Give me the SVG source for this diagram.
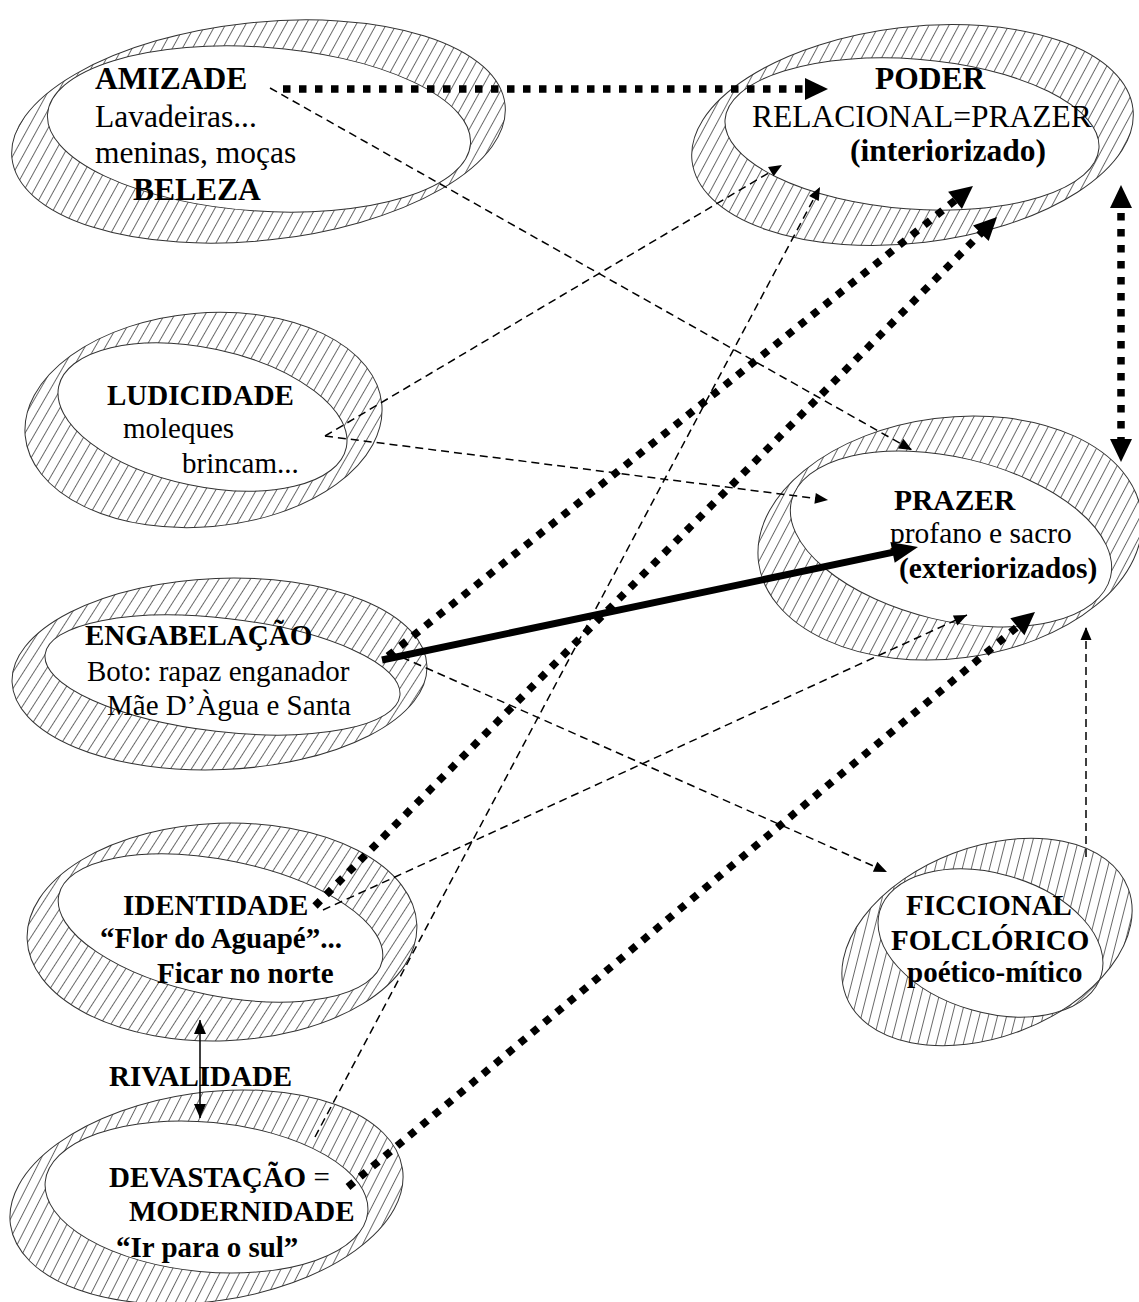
<svg xmlns="http://www.w3.org/2000/svg" xmlns:xlink="http://www.w3.org/1999/xlink" width="1139" height="1302" viewBox="0 0 1139 1302">
<style>
.hatch{fill:url(#h);stroke:none}
.dense{fill:url(#hd);stroke:none}
.white{fill:#fff;stroke:none}
.edge{fill:none;stroke:#333;stroke-width:1}
text{font-family:"Liberation Serif","Times New Roman",serif;fill:#000}
.b{font-weight:bold}
.n{font-weight:normal}
.s31{font-size:31.5px}
.s29{font-size:29px}
.dash{fill:none;stroke:#000;stroke-width:1.5;stroke-dasharray:8 5;marker-end:url(#aThin)}
.dot{fill:none;stroke:#000;stroke-width:7.5;stroke-dasharray:7.5 8.5;marker-end:url(#aDot)}
.solid{fill:none;stroke:#000;stroke-width:7;marker-end:url(#aSolid)}
.riv{fill:none;stroke:#000;stroke-width:1.5;marker-start:url(#aRiv);marker-end:url(#aRiv)}
.both{marker-start:url(#aDot)}
</style>
<defs>
<pattern id="h" patternUnits="userSpaceOnUse" width="8.8" height="10" patternTransform="rotate(35)"><line x1="4.4" y1="-1" x2="4.4" y2="11" stroke="#444" stroke-width="0.8"/></pattern>
<pattern id="hd" patternUnits="userSpaceOnUse" width="3" height="10" patternTransform="rotate(30)"><line x1="1.5" y1="-1" x2="1.5" y2="11" stroke="#444" stroke-width="0.7"/></pattern>
<marker id="aThin" markerUnits="userSpaceOnUse" markerWidth="13" markerHeight="11" refX="13" refY="5.5" orient="auto-start-reverse" overflow="visible"><path d="M0,0 L13,5.5 L0,11 z" fill="#000"/></marker>
<marker id="aDot" markerUnits="userSpaceOnUse" markerWidth="23" markerHeight="22" refX="11" refY="11" orient="auto-start-reverse" overflow="visible"><path d="M0,0 L23,11 L0,22 z" fill="#000"/></marker>
<marker id="aSolid" markerUnits="userSpaceOnUse" markerWidth="26" markerHeight="21" refX="12" refY="10.5" orient="auto-start-reverse" overflow="visible"><path d="M0,0 L26,10.5 L0,21 z" fill="#000"/></marker>
<marker id="aRiv" markerUnits="userSpaceOnUse" markerWidth="14" markerHeight="12" refX="14" refY="6" orient="auto-start-reverse" overflow="visible"><path d="M0,0 L14,6 L0,12 z" fill="#000"/></marker>

<ellipse id="o1" cx="258.5" cy="131.5" rx="248" ry="109" transform="rotate(-6.2 258.5 131.5)"/>
<ellipse id="i1" cx="259" cy="129" rx="212" ry="82" transform="rotate(4 259 129)"/>
<ellipse id="o2" cx="912.5" cy="135" rx="222" ry="108" transform="rotate(-6.8 912.5 135)"/>
<ellipse id="i2" cx="912" cy="134" rx="187.5" ry="75" transform="rotate(4.4 912 134)"/>
<ellipse id="o3" cx="203.5" cy="420" rx="179" ry="107" transform="rotate(-5 203.5 420)"/>
<ellipse id="i3" cx="202.5" cy="417" rx="147" ry="69" transform="rotate(12 202.5 417)"/>
<ellipse id="o4" cx="950" cy="538" rx="193" ry="120.5" transform="rotate(-7.3 950 538)"/>
<ellipse id="i4" cx="951" cy="539" rx="164" ry="81.6" transform="rotate(13.4 951 539)"/>
<ellipse id="o5" cx="219.5" cy="674" rx="207.6" ry="95.7" transform="rotate(-2.3 219.5 674)"/>
<ellipse id="i5" cx="222.5" cy="675" rx="178.6" ry="56.7" transform="rotate(6.6 222.5 675)"/>
<ellipse id="o6" cx="222" cy="932" rx="195" ry="108.8" transform="rotate(-2.1 222 932)"/>
<ellipse id="i6" cx="220.5" cy="928" rx="165" ry="67.8" transform="rotate(11.4 220.5 928)"/>
<ellipse id="o7" cx="206.5" cy="1197" rx="198" ry="104.4" transform="rotate(-8.1 206.5 1197)"/>
<ellipse id="i7" cx="206.5" cy="1197" rx="162" ry="74.8" transform="rotate(5.4 206.5 1197)"/>
<ellipse id="o8" cx="987" cy="942" rx="151" ry="95" transform="rotate(-20.8 987 942)"/>
<ellipse id="i8" cx="990.5" cy="943" rx="115.3" ry="69.5" transform="rotate(16 990.5 943)"/>

<clipPath id="c1"><use xlink:href="#o1"/></clipPath>
<clipPath id="c2"><use xlink:href="#o2"/></clipPath>
<clipPath id="c3"><use xlink:href="#o3"/></clipPath>
<clipPath id="c4"><use xlink:href="#o4"/></clipPath>
<clipPath id="c5"><use xlink:href="#o5"/></clipPath>
<clipPath id="c6"><use xlink:href="#o6"/></clipPath>
<clipPath id="c7"><use xlink:href="#o7"/></clipPath>
<clipPath id="c8"><use xlink:href="#o8"/></clipPath>
</defs>
<rect width="1139" height="1302" fill="#fff"/>

<g id="node-amizade">
<use xlink:href="#i1" class="dense"/><use xlink:href="#o1" class="hatch"/><use xlink:href="#i1" class="white" clip-path="url(#c1)"/><use xlink:href="#o1" class="edge"/><use xlink:href="#i1" class="edge"/>
<text class="s31"><tspan class="b" x="95" y="89">AMIZADE</tspan><tspan x="95" y="127">Lavadeiras...</tspan><tspan x="95" y="163">meninas, moças</tspan><tspan class="b" x="133" y="200">BELEZA</tspan></text>
</g>

<g id="node-poder">
<use xlink:href="#i2" class="dense"/><use xlink:href="#o2" class="hatch"/><use xlink:href="#i2" class="white" clip-path="url(#c2)"/><use xlink:href="#o2" class="edge"/><use xlink:href="#i2" class="edge"/>
<text class="s31"><tspan class="b" x="875" y="89">PODER</tspan><tspan x="752" y="127">RELACIONAL=PRAZER</tspan><tspan class="b" x="850" y="161">(interiorizado)</tspan></text>
</g>

<g id="node-ludicidade">
<use xlink:href="#i3" class="dense"/><use xlink:href="#o3" class="hatch"/><use xlink:href="#i3" class="white" clip-path="url(#c3)"/><use xlink:href="#o3" class="edge"/><use xlink:href="#i3" class="edge"/>
<text class="s29"><tspan class="b" x="107" y="405">LUDICIDADE</tspan><tspan x="123" y="438">moleques</tspan><tspan x="182" y="473">brincam...</tspan></text>
</g>

<g id="node-prazer">
<use xlink:href="#i4" class="dense"/><use xlink:href="#o4" class="hatch"/><use xlink:href="#i4" class="white" clip-path="url(#c4)"/><use xlink:href="#o4" class="edge"/><use xlink:href="#i4" class="edge"/>
<text style="font-size:29.5px"><tspan class="b" x="894" y="510">PRAZER</tspan><tspan x="890" y="543">profano e sacro</tspan><tspan class="b" x="899" y="578">(exteriorizados)</tspan></text>
</g>

<g id="node-engabelacao">
<use xlink:href="#i5" class="dense"/><use xlink:href="#o5" class="hatch"/><use xlink:href="#i5" class="white" clip-path="url(#c5)"/><use xlink:href="#o5" class="edge"/><use xlink:href="#i5" class="edge"/>
<text class="s29"><tspan class="b" x="85" y="645">ENGABELAÇÃO</tspan><tspan x="87" y="681">Boto: rapaz enganador</tspan><tspan x="107" y="715">Mãe D’Àgua e Santa</tspan></text>
</g>

<g id="node-identidade">
<use xlink:href="#i6" class="dense"/><use xlink:href="#o6" class="hatch"/><use xlink:href="#i6" class="white" clip-path="url(#c6)"/><use xlink:href="#o6" class="edge"/><use xlink:href="#i6" class="edge"/>
<text class="s29 b"><tspan x="123" y="915">IDENTIDADE</tspan><tspan x="100" y="948">“Flor do Aguapé”...</tspan><tspan x="157" y="983">Ficar no norte</tspan></text>
</g>

<g id="node-devastacao">
<use xlink:href="#i7" class="dense"/><use xlink:href="#o7" class="hatch"/><use xlink:href="#i7" class="white" clip-path="url(#c7)"/><use xlink:href="#o7" class="edge"/><use xlink:href="#i7" class="edge"/>
<text class="s29 b"><tspan x="109" y="1187">DEVASTAÇÃO<tspan class="n"> =</tspan></tspan><tspan x="129" y="1221">MODERNIDADE</tspan><tspan x="116" y="1257">“Ir para o sul”</tspan></text>
</g>

<g id="node-ficcional">
<use xlink:href="#i8" class="dense"/><use xlink:href="#o8" class="hatch"/><use xlink:href="#i8" class="white" clip-path="url(#c8)"/><use xlink:href="#o8" class="edge"/><use xlink:href="#i8" class="edge"/>
<text class="s29 b"><tspan x="906" y="915">FICCIONAL</tspan><tspan x="891" y="950">FOLCLÓRICO</tspan><tspan x="907" y="982">poético-mítico</tspan></text>
</g>

<g id="label-rivalidade">
<text class="s29 b" x="109" y="1086">RIVALIDADE</text>
</g>

<g id="connectors">
<line class="dot" x1="283" y1="89" x2="816" y2="89"/>
<line class="dash" x1="270" y1="88" x2="912" y2="450"/>
<line class="dash" x1="325" y1="436" x2="782" y2="165"/>
<line class="dash" x1="325" y1="436" x2="828" y2="500"/>
<line class="dash" x1="315" y1="1137" x2="820" y2="187"/>
<line class="dot" x1="388" y1="656" x2="963.6" y2="193.5"/>
<line class="dot" x1="315" y1="906" x2="988.6" y2="225.5"/>
<line class="solid" x1="382" y1="660" x2="904.3" y2="549.9"/>
<line class="dash" x1="390" y1="652" x2="887" y2="872"/>
<line class="dash" x1="323" y1="910" x2="967" y2="615"/>
<line class="dot" x1="348" y1="1187" x2="1025.8" y2="619.7"/>
<line class="dash" x1="1086" y1="857" x2="1086" y2="627"/>
<line class="dot both" x1="1121" y1="197" x2="1121" y2="450"/>
<line class="riv" x1="200" y1="1020" x2="200" y2="1118"/>
</g>
</svg>
